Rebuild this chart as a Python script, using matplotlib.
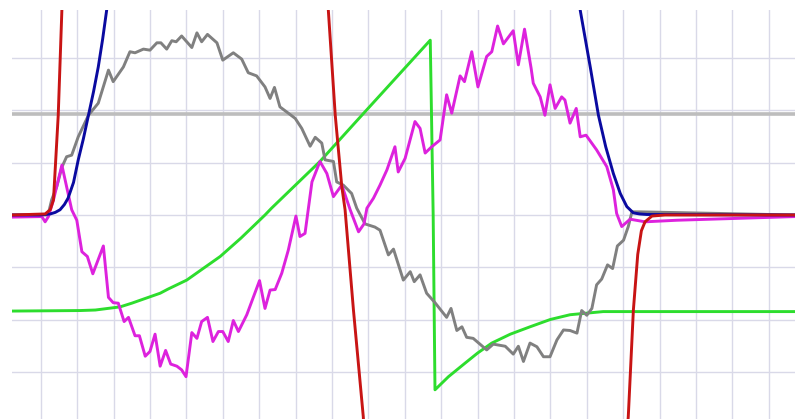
import numpy as np
import matplotlib
matplotlib.use("Agg")
import matplotlib.pyplot as plt

# values, in grid units (x: one column per unit, y: one row per unit)
red_x1 = [-0.79, 0.12, 0.26, 0.35, 0.48, 0.58, 0.62]
red_y1 = [0.0, 0.02, 0.10, 0.29, 1.90, 3.90, 4.60]
red_x2 = [7.88, 7.90, 8.09, 8.27, 8.36, 8.59, 8.86, 8.88]
red_y2 = [4.29, 3.90, 1.90, 0.54, 0.10, -1.81, -3.84, -4.10]
red_x3 = [16.11, 16.14, 16.28, 16.40, 16.50, 16.60, 16.79, 17.15, 20.72]
red_y3 = [-4.10, -3.84, -1.81, -0.75, -0.30, -0.13, -0.02, 0.0, 0.0]

blue_x1 = [-0.79, -0.02, 0.26, 0.40, 0.53, 0.65, 0.75, 0.90, 1.03, 1.17, 1.31,
           1.45, 1.58, 1.70, 1.81, 1.88]
blue_y1 = [0.0, 0.0, 0.02, 0.05, 0.10, 0.20, 0.32, 0.62, 1.05, 1.45, 1.90,
           2.35, 2.82, 3.35, 3.90, 4.29]
blue_x2 = [14.80, 14.82, 15.10, 15.32, 15.52, 15.73, 15.92, 16.10, 16.28, 16.45,
           16.65, 20.72]
blue_y2 = [4.29, 3.90, 2.80, 1.90, 1.30, 0.79, 0.41, 0.16, 0.04, 0.02, 0.01, 0.0]

green_x = [-0.79, 1.08, 1.50, 2.18, 2.50, 3.28, 3.50, 4.01, 4.50, 4.93, 5.50,
           6.16, 6.34, 7.67, 8.82, 10.70, 10.78, 10.83, 11.20, 11.66, 12.00,
           12.39, 12.90, 13.44, 14.00, 14.54, 15.45, 20.72]
green_y = [-1.83, -1.82, -1.81, -1.75, -1.68, -1.49, -1.41, -1.24, -1.00, -0.79,
           -0.44, 0.0, 0.13, 1.02, 1.90, 3.33, 0.0, -3.33, -3.08, -2.82, -2.63,
           -2.44, -2.27, -2.13, -1.99, -1.90, -1.84, -1.84]

gray_x = [-0.79, 0.20, 0.30, 0.44, 0.58, 0.71, 0.85, 1.03, 1.31, 1.58, 1.86, 1.99,
          2.27, 2.45, 2.59, 2.82, 3.00, 3.19, 3.30, 3.46, 3.60, 3.72, 3.87, 4.15,
          4.29, 4.42, 4.58, 4.84, 5.00, 5.29, 5.52, 5.70, 5.93, 6.16, 6.30, 6.42,
          6.57, 6.80, 6.99, 7.17, 7.40, 7.54, 7.72, 7.81, 8.04, 8.13, 8.31, 8.54,
          8.68, 8.91, 9.18, 9.32, 9.55, 9.69, 9.96, 10.15, 10.26, 10.42, 10.60,
          10.83, 11.15, 11.27, 11.43, 11.57, 11.70, 11.88, 12.25, 12.43, 12.76,
          12.98, 13.12, 13.26, 13.44, 13.63, 13.81, 13.99, 14.18, 14.36, 14.54,
          14.73, 14.86, 15.00, 15.14, 15.27, 15.41, 15.57, 15.71, 15.84, 16.01,
          16.14, 16.24, 16.46, 20.72]
gray_y = [0.0, 0.0, 0.29, 0.54, 0.91, 1.11, 1.14, 1.49, 1.90, 2.13, 2.76, 2.54,
          2.82, 3.11, 3.09, 3.16, 3.14, 3.28, 3.28, 3.16, 3.32, 3.30, 3.41, 3.19,
          3.47, 3.30, 3.44, 3.28, 2.95, 3.09, 2.97, 2.71, 2.65, 2.44, 2.22, 2.43,
          2.06, 1.94, 1.84, 1.65, 1.31, 1.48, 1.37, 1.05, 1.02, 0.63, 0.57, 0.41,
          0.13, -0.17, -0.23, -0.29, -0.76, -0.65, -1.24, -1.08, -1.27, -1.14, -1.49,
          -1.67, -1.95, -1.78, -2.20, -2.13, -2.33, -2.35, -2.57, -2.46, -2.50,
          -2.65, -2.50, -2.79, -2.44, -2.51, -2.70, -2.70, -2.38, -2.19, -2.20,
          -2.25, -1.82, -1.91, -1.78, -1.33, -1.22, -0.95, -1.02, -0.59, -0.48,
          -0.22, 0.06, 0.06, 0.0]

magenta_x = [-0.79, 0.03, 0.12, 0.21, 0.35, 0.58, 0.71, 0.85, 0.99, 1.13, 1.28,
             1.43, 1.72, 1.86, 1.99, 2.13, 2.29, 2.41, 2.59, 2.71, 2.87, 3.00,
             3.14, 3.28, 3.43, 3.57, 3.74, 3.87, 3.99, 4.15, 4.29, 4.42, 4.58,
             4.73, 4.88, 5.00, 5.15, 5.29, 5.43, 5.66, 6.01, 6.16, 6.30, 6.44,
             6.62, 6.80, 7.01, 7.12, 7.26, 7.45, 7.67, 7.86, 8.04, 8.27, 8.50,
             8.73, 8.88, 8.96, 9.14, 9.32, 9.51, 9.73, 9.82, 10.01, 10.28, 10.42,
             10.56, 10.74, 10.97, 11.15, 11.29, 11.52, 11.64, 11.84, 12.01, 12.25,
             12.39, 12.55, 12.71, 12.98, 13.12, 13.29, 13.47, 13.53, 13.72, 13.85,
             13.99, 14.13, 14.31, 14.40, 14.54, 14.71, 14.82, 14.98, 15.27, 15.55,
             15.73, 15.82, 15.96, 16.19, 16.60, 17.47, 20.72]
magenta_y = [-0.04, -0.03, -0.13, -0.03, 0.29, 0.95, 0.54, 0.10, -0.10, -0.70, -0.79,
             -1.12, -0.59, -1.57, -1.67, -1.68, -2.03, -1.95, -2.30, -2.30, -2.69,
             -2.60, -2.27, -2.88, -2.58, -2.84, -2.88, -2.95, -3.08, -2.24, -2.35,
             -2.03, -1.95, -2.41, -2.22, -2.22, -2.41, -2.01, -2.22, -1.90, -1.25,
             -1.78, -1.43, -1.42, -1.11, -0.67, -0.02, -0.41, -0.35, 0.63, 1.02,
             0.79, 0.35, 0.57, 0.10, -0.32, -0.17, 0.13, 0.32, 0.57, 0.86, 1.30,
             0.82, 1.08, 1.78, 1.65, 1.18, 1.30, 1.43, 2.29, 1.94, 2.65, 2.54,
             3.11, 2.44, 3.02, 3.11, 3.60, 3.26, 3.51, 2.86, 3.54, 2.80, 2.51,
             2.25, 1.90, 2.48, 2.03, 2.25, 2.19, 1.75, 2.03, 1.49, 1.52, 1.24,
             0.92, 0.48, 0.03, -0.22, -0.08, -0.13, -0.10, -0.03]

ref_level = 1.92

fig = plt.figure(figsize=(7.95, 4.19), dpi=100)
ax = fig.add_axes([12 / 795, 0, 783 / 795, 409 / 419])
ax.set_xlim(-0.79, 20.72)
ax.set_ylim(-3.886, 3.905)
ax.set_xticks(np.arange(0, 21))
ax.set_yticks(np.arange(-3, 4))
ax.grid(True, color='#d9d9e8', linewidth=1.0)
ax.tick_params(length=0, labelbottom=False, labelleft=False)
for s in ax.spines.values():
    s.set_visible(False)

lw = 2.1
ax.axhline(ref_level, color='#bdbdbd', linewidth=2.6)
ax.plot(green_x, green_y, color='#2ddd2d', linewidth=lw)
ax.plot(gray_x, gray_y, color='#808080', linewidth=lw)
ax.plot(magenta_x, magenta_y, color='#dd22dd', linewidth=lw)
ax.plot(blue_x1, blue_y1, color='#0a0aa0', linewidth=lw)
ax.plot(blue_x2, blue_y2, color='#0a0aa0', linewidth=lw)
ax.plot(red_x1, red_y1, color='#c81414', linewidth=lw)
ax.plot(red_x2, red_y2, color='#c81414', linewidth=lw)
ax.plot(red_x3, red_y3, color='#c81414', linewidth=lw)

fig.savefig('out.png', dpi=100)
